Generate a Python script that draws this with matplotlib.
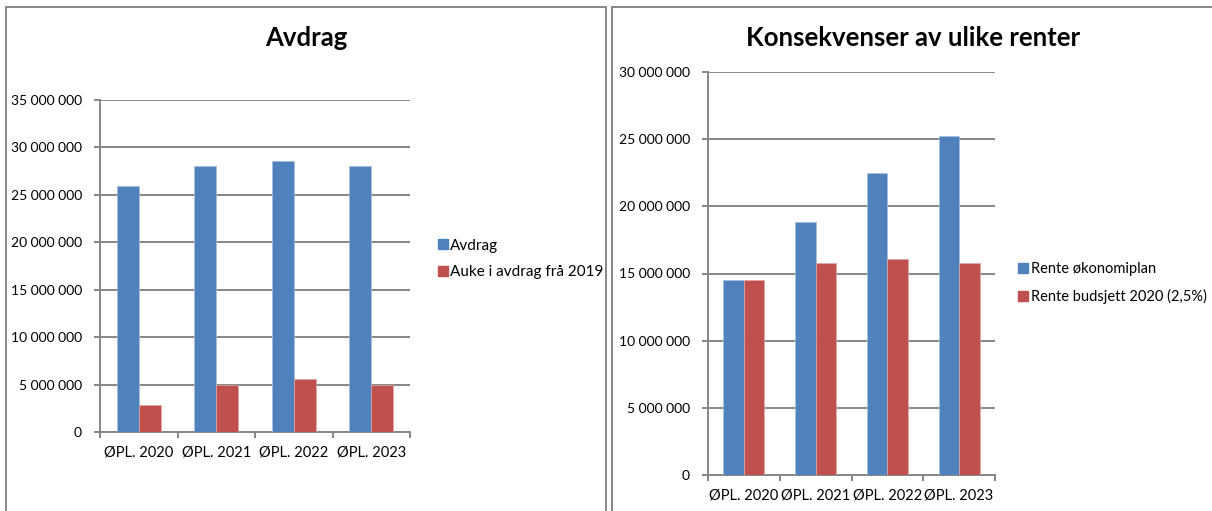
import matplotlib
matplotlib.use("Agg")
import matplotlib.pyplot as plt
from matplotlib.patches import Rectangle
from matplotlib.lines import Line2D
from matplotlib.ticker import FuncFormatter, MultipleLocator
import numpy as np

plt.rcParams['font.family'] = ['Lato', 'DejaVu Sans']

categories = ["ØPL. 2020", "ØPL. 2021", "ØPL. 2022", "ØPL. 2023"]

# left chart
avdrag = [25_950_000, 28_000_000, 28_600_000, 28_000_000]
auke = [2_800_000, 5_000_000, 5_600_000, 5_000_000]
left_names = ["Avdrag", "Auke i avdrag frå 2019"]

# right chart
rente_plan = [14_500_000, 18_850_000, 22_450_000, 25_200_000]
rente_budsjett = [14_500_000, 15_750_000, 16_100_000, 15_750_000]
right_names = ["Rente økonomiplan", "Rente budsjett 2020 (2,5%)"]

BLUE = "#4F81BD"
RED = "#C0504D"
GREY = "#868686"
W, H = 1212, 511


def fmt(v, pos):
    return f"{int(v):,}".replace(",", " ")


def px(x0, y0, x1, y1):
    # pixel box -> figure fraction rect
    return [x0 / W, 1 - y1 / H, (x1 - x0) / W, (y1 - y0) / H]


def draw(ax, s1, s2, ymax, names, leg_xy, leg_fs):
    x = np.arange(len(categories))
    bw = 0.286
    ax.bar(x - bw / 2, s1, bw, color=BLUE, edgecolor="#A7C0DE", linewidth=0.5, zorder=3)
    ax.bar(x + bw / 2, s2, bw, color=RED, edgecolor="#E0A9A7", linewidth=0.5, zorder=3)
    ax.set_xlim(-0.5, len(categories) - 0.5)
    ax.set_ylim(0, ymax)
    ax.yaxis.set_major_locator(MultipleLocator(5_000_000))
    ax.yaxis.set_major_formatter(FuncFormatter(fmt))
    ax.grid(axis="y", color=GREY, linewidth=1.4, zorder=0)
    for s in ["top", "right"]:
        ax.spines[s].set_visible(False)
    for s in ["left", "bottom"]:
        ax.spines[s].set_color(GREY)
        ax.spines[s].set_linewidth(1.4)
    ax.set_xticks(x)
    ax.set_xticklabels(categories, fontsize=10.5)
    ax.set_xticks(np.arange(-0.5, len(categories)), minor=True)
    ax.tick_params(axis="x", which="major", length=0, pad=10)
    ax.tick_params(axis="x", which="minor", length=4, width=1.4, color=GREY)
    ax.tick_params(axis="y", length=4, width=1.4, color=GREY, labelsize=10, pad=9)
    ax.set_axisbelow(True)
    handles = [Line2D([], [], marker="s", color=c, linestyle="none", markersize=7)
               for c in (BLUE, RED)]
    fig.legend(handles, names, loc="center left", bbox_to_anchor=leg_xy,
               frameon=False, fontsize=leg_fs, handlelength=0.6, handletextpad=0.2,
               labelspacing=0.85, borderaxespad=0, borderpad=0)


fig = plt.figure(figsize=(W / 100, H / 100), dpi=100)

# panel borders
fig.patches.append(Rectangle((6 / W, -0.1), 600 / W, 1.1 - 6.5 / H, transform=fig.transFigure,
                             fill=False, edgecolor=GREY, linewidth=1.4))
fig.patches.append(Rectangle((612 / W, -0.1), 0.6, 1.1 - 6.5 / H, transform=fig.transFigure,
                             fill=False, edgecolor=GREY, linewidth=1.4))

ax1 = fig.add_axes(px(100, 100, 410, 432))
draw(ax1, avdrag, auke, 35_000_000, left_names, (438 / W, 1 - 259 / H), 11)
fig.text(306 / W, 1 - 38 / H, "Avdrag", ha="center", va="center",
         fontsize=18.5, fontweight="bold")

ax2 = fig.add_axes(px(708, 72, 995, 475))
draw(ax2, rente_plan, rente_budsjett, 30_000_000, right_names, (1019 / W, 1 - 283 / H), 10.5)
fig.text(913 / W, 1 - 38 / H, "Konsekvenser av ulike renter", ha="center", va="center",
         fontsize=18.5, fontweight="bold")

fig.savefig("out.png", dpi=100)
